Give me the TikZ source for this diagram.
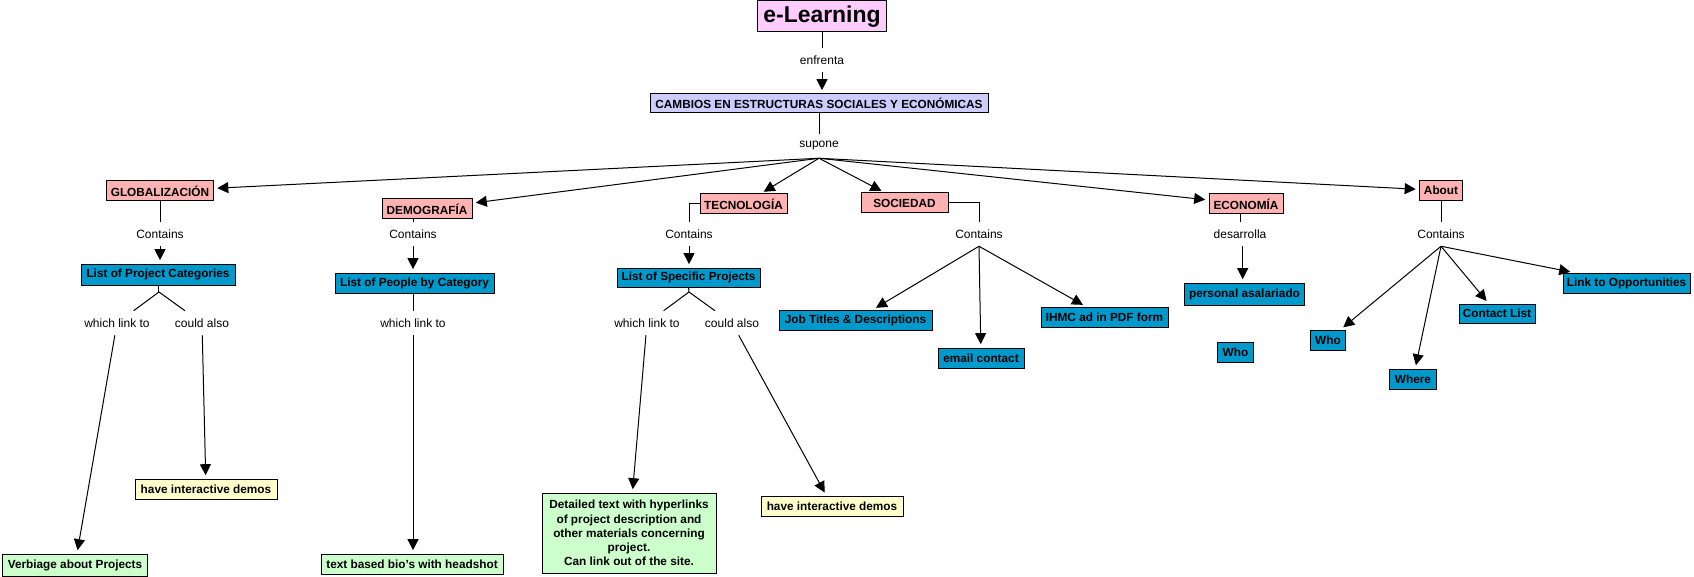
\documentclass[tikz,border=0pt]{standalone}
\usepackage{fontspec}
\setmainfont{Liberation Sans}
\usetikzlibrary{arrows.meta}
\definecolor{cviolet}{HTML}{FFCCFF}
\definecolor{clav}{HTML}{CCCCFF}
\definecolor{cpink}{HTML}{FFB2B2}
\definecolor{cblue}{HTML}{0099CC}
\definecolor{cyellow}{HTML}{FFFFCC}
\definecolor{cgreen}{HTML}{CCFFCC}
\tikzset{
  concept/.style={draw=black, line width=0.75pt, inner sep=1.5pt, text=black, align=center,
    font=\bfseries\fontsize{8.85}{10.6}\selectfont},
  dims/.style 2 args={minimum width=#1*0.75pt, minimum height=#2*0.75pt},
  pink/.style={concept, fill=cpink},
  blue/.style={concept, fill=cblue},
  yel/.style={concept, fill=cyellow},
  grn/.style={concept, fill=cgreen},
  lbl/.style={inner xsep=0pt, inner ysep=0pt, minimum height=24*0.75pt, text=black,
    font=\fontsize{9}{10}\selectfont},
  conn/.style={line width=0.75pt, draw=black},
  arr/.style={conn, -{Triangle[length=8.25pt,width=8.25pt]}, shorten >=2.5pt},
}
\begin{document}
\begin{tikzpicture}[x=0.75pt,y=-0.75pt]
\useasboundingbox (0,0) rectangle (1694,577);
% concepts
\node[concept, fill=cviolet, dims={129}{31}, font=\bfseries\fontsize{17.2}{20}\selectfont] (eL) at (822,16.5) {e-Learning};
\node[concept, fill=clav, dims={338}{19}] (camb) at (819,103.5) {CAMBIOS EN ESTRUCTURAS SOCIALES Y ECONÓMICAS};
\node[pink, dims={107}{20}] (glob) at (160,191) {GLOBALIZACIÓN};
\node[pink, dims={90}{20}] (demo) at (427,209) {DEMOGRAFÍA};
\node[pink, dims={87}{20}] (tecno) at (743.5,204) {TECNOLOGÍA};
\node[pink, dims={87}{20}] (soc) at (904.5,203) {SOCIEDAD};
\node[pink, dims={74}{20}] (econ) at (1246,204) {ECONOMÍA};
\node[pink, dims={43}{20}] (about) at (1441,190.5) {About};
\node[blue, dims={154}{21}] (lpc) at (158,274.5) {List of Project Categories};
\node[blue, dims={159}{20}] (lpeople) at (414.5,283) {List of People by Category};
\node[blue, dims={143}{19}] (lsp) at (688.5,277.5) {List of Specific Projects};
\node[blue, dims={153}{20}] (job) at (855.5,320) {Job Titles \& Descriptions};
\node[blue, dims={86}{20}] (email) at (981,358) {email contact};
\node[blue, dims={127}{20}] (ihmc) at (1104.5,317) {IHMC ad in PDF form};
\node[blue, dims={120}{22}] (pers) at (1244.5,294) {personal asalariado};
\node[blue, dims={36}{20}] (who1) at (1235.5,352) {Who};
\node[blue, dims={35}{20}] (who2) at (1328,340) {Who};
\node[blue, dims={47}{20}] (where) at (1413,379) {Where};
\node[blue, dims={76}{19}] (contact) at (1497,313.5) {Contact List};
\node[blue, dims={127}{20}] (link) at (1626.5,283) {Link to Opportunities};
\node[grn, dims={145}{22}] (verb) at (75,565) {Verbiage about Projects};
\node[yel, dims={142}{20}] (demos1) at (206,489) {have interactive demos};
\node[grn, dims={182}{20}] (bio) at (412,564) {text based bio's with headshot};
\node[grn, dims={174}{80}] (det) at (629,533) {Detailed text with hyperlinks\\of project description and\\other materials concerning\\project.\\Can link out of the site.};
\node[yel, dims={142}{20}] (demos2) at (832,506) {have interactive demos};
% linking phrases
\node[lbl] (enf) at (822,60) {enfrenta};
\node[lbl] (sup) at (819,146) {supone};
\node[lbl] (c1) at (160,234) {Contains};
\node[lbl] (c2) at (413,234) {Contains};
\node[lbl] (c3) at (689,234) {Contains};
\node[lbl] (c4) at (979,234) {Contains};
\node[lbl] (des) at (1240,234) {desarrolla};
\node[lbl] (c5) at (1441,234) {Contains};
\node[lbl] (wlt1) at (117,323) {which link to};
\node[lbl] (could1) at (202,323) {could also};
\node[lbl] (wlt2) at (413,323) {which link to};
\node[lbl] (wlt3) at (647,323) {which link to};
\node[lbl] (could2) at (732,323) {could also};
\coordinate (f1) at (159,292);
\coordinate (f3) at (689,292);
% connectors
\draw[conn] (eL.south) -- (enf.north);
\draw[arr] (enf.south) -- (camb.north -| enf.south);
\draw[conn] (camb.south) -- (sup.north);
\foreach \t in {glob,demo,tecno,soc,econ,about} \draw[arr] (sup.south) -- (\t);
\draw[conn] (glob.south) -- (c1.north);
\draw[arr] (c1.south) -- (c1.south |- lpc.north);
\draw[conn] (demo.south -| c2.north) -- (c2.north);
\draw[arr] (c2.south) -- (c2.south |- lpeople.north);
\draw[conn] (tecno.west) -| (c3.north);
\draw[arr] (c3.south) -- (c3.south |- lsp.north);
\draw[conn] (soc.east) -| (c4.north);
\foreach \t in {job,email,ihmc} \draw[arr] (c4.south) -- (\t);
\draw[conn] (econ.south -| des.north) -- (des.north);
\draw[arr] ([xshift=2pt]des.south) -- ([xshift=2pt]des.south |- pers.north);
\draw[conn] (about.south) -- (about.south |- c5.north);
\foreach \t in {who2,where,contact,link} \draw[arr] (c5.south) -- (\t);
\draw[conn] (lpc.south) -- (lpc.south |- f1) -- (f1);
\draw[conn] (f1) -- (wlt1);
\draw[conn] (f1) -- (could1);
\draw[arr] (wlt1) -- (verb);
\draw[arr] (could1) -- (demos1);
\draw[conn] (lpeople.south -| wlt2.north) -- (wlt2.north);
\draw[arr] (wlt2.south) -- (wlt2.south |- bio.north);
\draw[conn] (lsp.south) -- (f3);
\draw[conn] (f3) -- (wlt3);
\draw[conn] (f3) -- (could2);
\draw[arr] (wlt3) -- (det);
\draw[arr] (could2) -- (demos2);
\end{tikzpicture}
\end{document}
